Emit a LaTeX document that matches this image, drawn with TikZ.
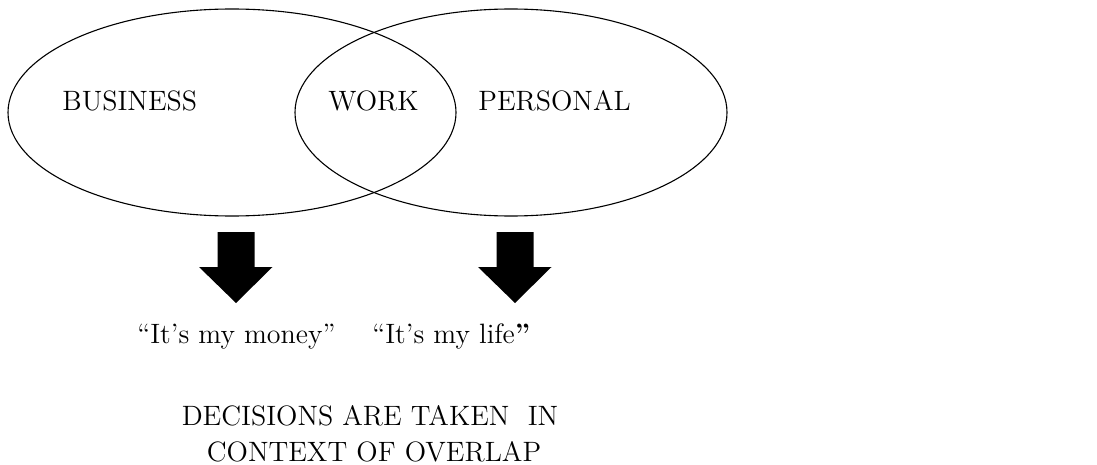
\documentclass[tikz,border=0pt]{standalone}
\usetikzlibrary{shapes.geometric}
\begin{document}
\begin{tikzpicture}[x=0.5pt,y=-0.5pt,
  setshape/.style={draw=black,line width=0.55pt,ellipse,inner sep=0pt},
  lbl/.style={inner sep=0pt,anchor=base west,font=\fontsize{14}{18}\selectfont},
  ctr/.style={inner sep=0pt,anchor=base,font=\fontsize{14}{18}\selectfont},
  blockarrow/.style={fill=black}]
\useasboundingbox (0,0) rectangle (1097,465);
% sets
\node[setshape,minimum width=224pt,minimum height=103.5pt] (bus) at (232,112.5) {};
\node[setshape,minimum width=216pt,minimum height=103.5pt] (per) at (511,112.5) {};
% labels
\node[lbl] (tbus) at (62,111) {BUSINESS};
\node[lbl] (twork) at (328,111) {WORK};
\node[lbl] (tper) at (478,111) {PERSONAL};
% block arrows
\coordinate (aL) at (236,232);
\coordinate (aR) at (515,232);
\fill[blockarrow] (aL) ++(-18.5,0) -- ++(37,0) -- ++(0,35) -- ++(18,0) -- (236,303) -- (199,267) -- (217.5,267) -- cycle;
\fill[blockarrow] (aR) ++(-18.5,0) -- ++(37,0) -- ++(0,35) -- ++(18,0) -- (515,303) -- (478,267) -- (496.5,267) -- cycle;
% quotes
\node[lbl] (qmoney) at (137,343) {``It's my money''};
\node[lbl] (qlife) at (372,343) {``It's my life{\bfseries''}};
% conclusion
\node[ctr] (dec1) at (370,425) {DECISIONS ARE TAKEN~ IN};
\node[ctr] (dec2) at (374,461) {CONTEXT OF OVERLAP};
\end{tikzpicture}
\end{document}
